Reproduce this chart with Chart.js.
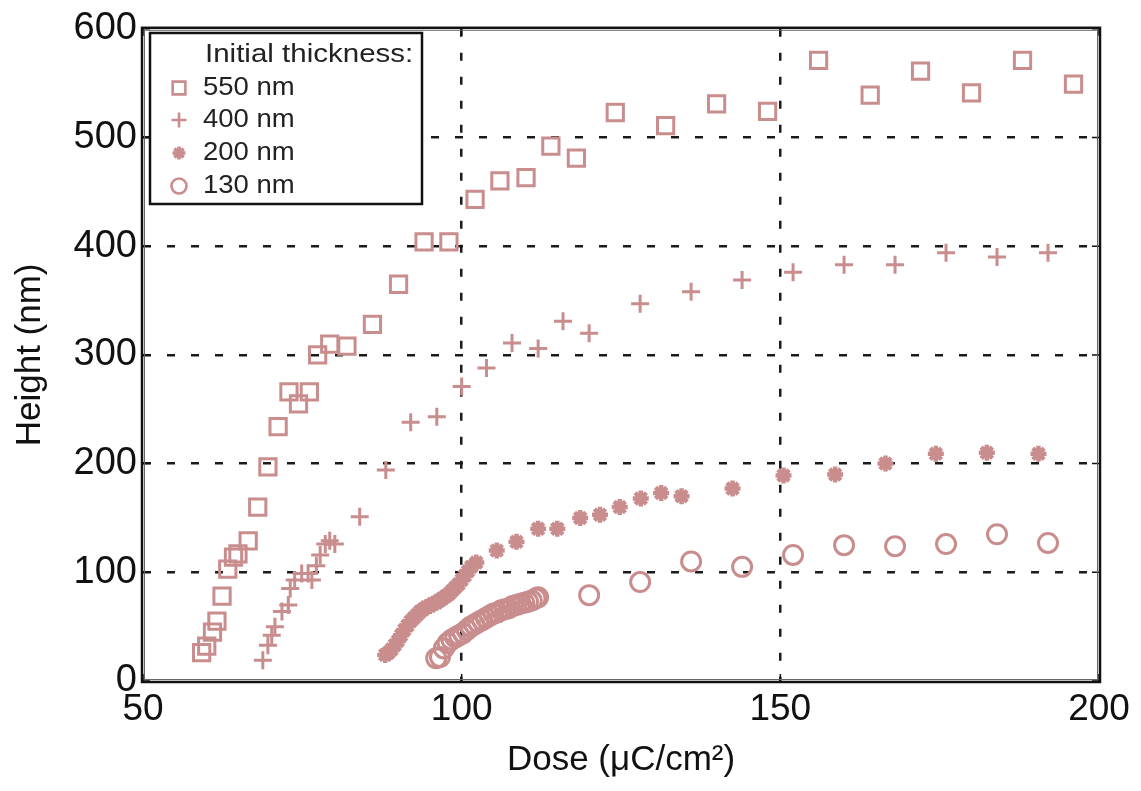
<!DOCTYPE html>
<html>
<head>
<meta charset="utf-8">
<script src="https://cdn.jsdelivr.net/npm/chart.js@4.4.1/dist/chart.umd.min.js"></script>
<style>
  html, body { margin: 0; padding: 0; background: #fff; }
  #c { display: block; }
</style>
</head>
<body>
<canvas id="c" width="1141" height="791"></canvas>
<script>
// valores
const xTicks = [50, 100, 150, 200];
const yTicks = [0, 100, 200, 300, 400, 500, 600];
const legendTitle = 'Initial thickness:';
const seriesLabels = ['550 nm', '400 nm', '200 nm', '130 nm'];

const dose550 = [59.2, 60.0, 60.9, 61.6, 62.4, 63.3, 64.2, 64.9, 66.5, 68.0, 69.6, 71.2, 72.9, 74.4, 76.1, 77.4, 79.3, 82.0, 86.0, 90.1, 94.1, 98.0, 102.1, 106.0, 110.1, 114.0, 118.0, 124.1, 132.0, 140.0, 148.0, 156.0, 164.1, 172.0, 180.0, 188.0, 196.0];
const height550 = [26, 32, 45, 55, 78, 103, 114, 117, 129, 160, 197, 234, 266, 255, 266, 300, 310, 308, 328, 365, 404, 404, 443, 460, 463, 492, 481, 523, 511, 531, 524, 571, 539, 561, 541, 571, 549];

const dose400 = [68.8, 69.6, 70.2, 70.7, 71.8, 72.8, 73.1, 73.8, 74.9, 75.9, 76.5, 77.2, 77.8, 78.6, 79.3, 80.1, 84.0, 88.1, 92.0, 96.1, 100.0, 103.9, 107.9, 112.0, 115.9, 120.0, 128.0, 136.0, 144.0, 152.0, 160.0, 168.0, 176.0, 184.0, 192.0];
const height400 = [19, 33, 42, 50, 64, 70, 85, 93, 99, 99, 93, 106, 116, 126, 129, 126, 151, 194, 238, 243, 271, 288, 311, 306, 331, 320, 347, 358, 369, 376, 383, 383, 394, 390, 394];

const dose200 = [88.0, 88.5, 89.0, 89.5, 90.0, 90.5, 91.0, 91.5, 92.0, 92.5, 93.0, 93.5, 94.0, 94.5, 95.0, 95.5, 96.0, 96.5, 97.0, 97.5, 98.0, 98.5, 99.0, 99.5, 100.0, 100.5, 101.0, 101.5, 102.3, 105.5, 108.6, 112.0, 115.0, 118.6, 121.7, 124.8, 128.1, 131.3, 134.5, 142.5, 150.5, 158.6, 166.5, 174.4, 182.4, 190.5];
const height200 = [24, 26, 29, 33, 37, 42, 47, 51, 55, 58, 61, 64, 66, 68, 69, 71, 72, 74, 76, 78, 80, 83, 86, 89, 93, 97, 101, 105, 109, 120, 128, 140, 140, 150, 153, 160, 168, 173, 170, 177, 189, 190, 200, 209, 210, 209];

const dose130 = [96.0, 96.6, 97.2, 97.8, 98.4, 99.0, 99.6, 100.2, 100.8, 101.4, 102.0, 102.6, 103.2, 103.8, 104.4, 105.0, 105.6, 106.2, 106.8, 107.4, 108.0, 108.6, 109.2, 109.8, 110.4, 111.0, 111.6, 112.0, 120.0, 128.0, 136.0, 144.0, 152.0, 160.0, 168.0, 176.0, 184.0, 192.0];
const height130 = [21, 22, 30, 35, 38, 40, 42, 44, 47, 50, 52, 54, 56, 58, 60, 62, 63, 65, 66, 67, 69, 70, 71, 72, 73, 74, 76, 77, 79, 91, 110, 105, 116, 125, 124, 126, 135, 127];

const MARK = '#c98d8d';
const FONT = "'Liberation Sans', Arial, Helvetica, sans-serif";

function pts(xs, ys) {
  return xs.map((x, i) => ({ x, y: ys[i] }));
}

function drawMarker(ctx, style, x, y, r) {
  ctx.beginPath();
  if (style === 'rect') {
    const s = r * Math.SQRT1_2;
    ctx.rect(x - s, y - s, 2 * s, 2 * s);
  } else if (style === 'cross') {
    ctx.moveTo(x - r, y); ctx.lineTo(x + r, y);
    ctx.moveTo(x, y - r); ctx.lineTo(x, y + r);
  } else if (style === 'star') {
    for (let k = 0; k < 4; k++) {
      const a = k * Math.PI / 4;
      ctx.moveTo(x - r * Math.cos(a), y - r * Math.sin(a));
      ctx.lineTo(x + r * Math.cos(a), y + r * Math.sin(a));
    }
  } else {
    ctx.arc(x, y, r, 0, Math.PI * 2);
  }
  ctx.stroke();
}

const styles = ['rect', 'cross', 'star', 'circle'];

// rejilla solo en los ticks interiores
const innerGrid = (edges) => c => edges.includes(c.tick && c.tick.value) ? 'rgba(0,0,0,0)' : '#1a1a1a';

const framePlugin = {
  id: 'frame',
  afterDraw(chart) {
    const { ctx, chartArea: a, scales } = chart;
    ctx.save();
    ctx.setLineDash([]);

    // ticks hacia dentro
    ctx.strokeStyle = '#111';
    ctx.lineWidth = 1.5;
    xTicks.forEach(v => {
      const px = scales.x.getPixelForValue(v);
      ctx.beginPath();
      ctx.moveTo(px, a.bottom); ctx.lineTo(px, a.bottom - 7);
      ctx.moveTo(px, a.top); ctx.lineTo(px, a.top + 7);
      ctx.stroke();
    });
    yTicks.forEach(v => {
      const py = scales.y.getPixelForValue(v);
      ctx.beginPath();
      ctx.moveTo(a.left, py); ctx.lineTo(a.left + 7, py);
      ctx.moveTo(a.right, py); ctx.lineTo(a.right - 7, py);
      ctx.stroke();
    });

    // marco doble
    ctx.lineWidth = 2.5;
    ctx.strokeStyle = '#111';
    ctx.strokeRect(a.left - 1, a.top - 1, a.right - a.left + 2, a.bottom - a.top + 2);
    ctx.lineWidth = 1;
    ctx.strokeStyle = '#666';
    ctx.strokeRect(a.left + 1.5, a.top + 1.5, a.right - a.left - 3, a.bottom - a.top - 3);

    // leyenda
    const lx = 150, ly = 33, lw = 272, lh = 171;
    ctx.fillStyle = '#fff';
    ctx.fillRect(lx, ly, lw, lh);
    ctx.lineWidth = 2.5;
    ctx.strokeStyle = '#111';
    ctx.strokeRect(lx, ly, lw, lh);

    ctx.fillStyle = '#222';
    ctx.textBaseline = 'middle';
    ctx.textAlign = 'left';
    ctx.font = `25px ${FONT}`;
    ctx.save();
    ctx.translate(205, 55);
    ctx.scale(1.18, 1);
    ctx.fillText(legendTitle, 0, 0);
    ctx.restore();

    const rows = [88, 120, 153, 186];
    const radii = [9, 7.5, 6.5, 7.5];
    const widths = [2.6, 2.6, 3.5, 2.6];
    seriesLabels.forEach((lab, i) => {
      ctx.strokeStyle = MARK;
      ctx.lineWidth = widths[i];
      drawMarker(ctx, styles[i], 179, rows[i], radii[i]);
      ctx.fillStyle = '#222';
      ctx.save();
      ctx.translate(203, rows[i]);
      ctx.scale(1.1, 1);
      ctx.fillText(lab, 0, 0);
      ctx.restore();
    });
    ctx.restore();
  }
};

new Chart(document.getElementById('c'), {
  type: 'scatter',
  data: {
    datasets: [
      { label: seriesLabels[0], data: pts(dose550, height550), pointStyle: 'rect', pointRadius: 11.5, borderWidth: 3 },
      { label: seriesLabels[1], data: pts(dose400, height400), pointStyle: 'cross', pointRadius: 9, borderWidth: 3 },
      { label: seriesLabels[2], data: pts(dose200, height200), pointStyle: 'star', pointRadius: 8, borderWidth: 4.5 },
      { label: seriesLabels[3], data: pts(dose130, height130), pointStyle: 'circle', pointRadius: 9.5, borderWidth: 3 },
    ].map(ds => ({ ...ds, borderColor: MARK, backgroundColor: 'rgba(0,0,0,0)', pointHoverRadius: ds.pointRadius, showLine: false })),
  },
  options: {
    responsive: false,
    animation: false,
    events: [],
    layout: { padding: { top: 27, right: 42, left: 0, bottom: 0 } },
    plugins: { legend: { display: false }, tooltip: { enabled: false } },
    scales: {
      x: {
        type: 'linear',
        min: 50, max: 200,
        afterBuildTicks: s => { s.ticks = xTicks.map(v => ({ value: v })); },
        afterFit: s => { s.height = 110; },
        ticks: { color: '#111', font: { family: FONT, size: 37 }, padding: 7, maxRotation: 0 },
        grid: { color: innerGrid([50, 200]), lineWidth: 2.5, drawTicks: false },
        border: { display: false, dash: [8, 16] },
        title: { display: true, text: 'Dose (μC/cm²)', color: '#111', font: { family: FONT, size: 35 }, padding: { top: 0, bottom: 10 } },
      },
      y: {
        type: 'linear',
        min: 0, max: 600,
        afterBuildTicks: s => { s.ticks = yTicks.map(v => ({ value: v })); },
        afterFit: s => { s.width = 143; },
        ticks: { color: '#111', font: { family: FONT, size: 38 }, padding: 6 },
        grid: { color: innerGrid([0, 600]), lineWidth: 2.5, drawTicks: false },
        border: { display: false, dash: [8, 16] },
        title: { display: true, text: 'Height (nm)', color: '#111', font: { family: FONT, size: 35 }, padding: { top: 9, bottom: 0 } },
      },
    },
  },
  plugins: [framePlugin],
});
</script>
</body>
</html>
